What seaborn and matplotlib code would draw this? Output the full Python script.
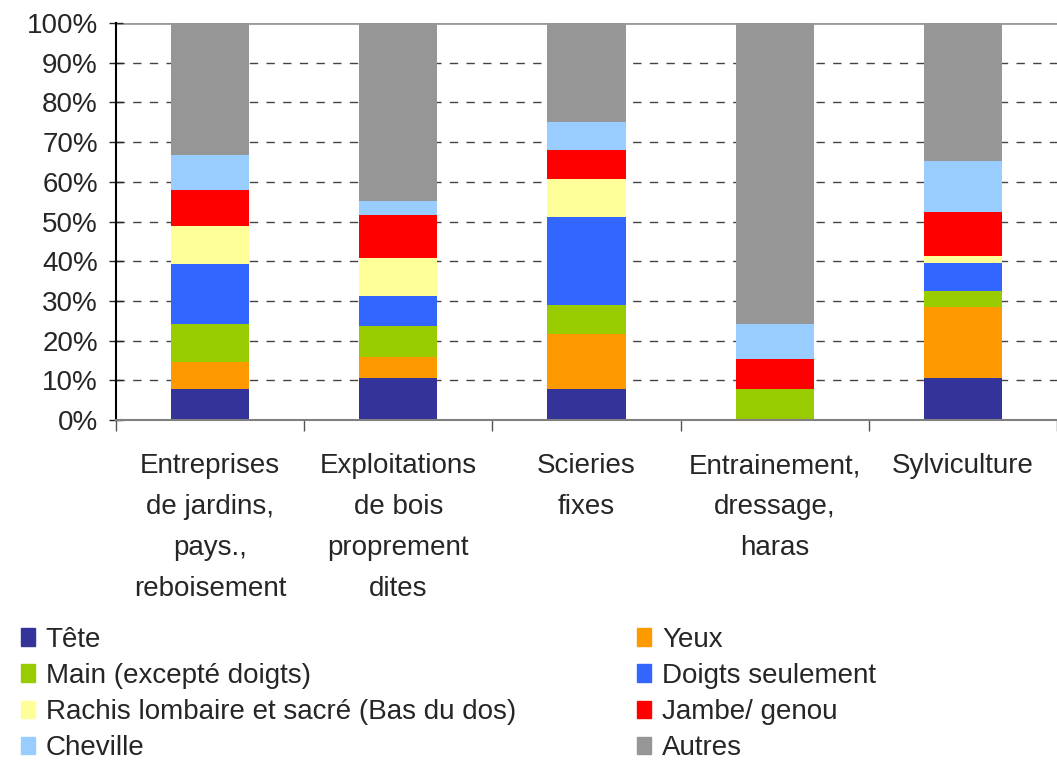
import matplotlib
matplotlib.use("Agg")
import matplotlib.pyplot as plt
import matplotlib.patches as mpatches
import numpy as np
import pandas as pd
import seaborn as sns

categories = [
    "Entreprises\nde jardins,\npays.,\nreboisement",
    "Exploitations\nde bois\nproprement\ndites",
    "Scieries\nfixes",
    "Entrainement,\ndressage,\nharas",
    "Sylviculture",
]

series = ["Tête", "Yeux", "Main (excepté doigts)", "Doigts seulement",
          "Rachis lombaire et sacré (Bas du dos)", "Jambe/ genou", "Cheville", "Autres"]

tete = [7.8, 10.6, 7.8, 0.0, 10.6]
yeux = [6.9, 5.3, 13.8, 0.0, 17.8]
main = [9.6, 7.7, 7.4, 7.8, 4.1]
doigts = [15.0, 7.6, 22.1, 0.0, 7.0]
rachis = [9.6, 9.5, 9.5, 0.0, 1.9]
jambe = [9.0, 11.0, 7.5, 7.6, 11.0]
cheville = [8.8, 3.4, 6.9, 8.9, 12.9]
autres = [33.3, 44.9, 25.0, 75.7, 34.7]

colors = ["#333399", "#FF9900", "#99CC00", "#3366FF",
          "#FFFF99", "#FF0000", "#99CCFF", "#969696"]

df = pd.DataFrame(
    np.array([tete, yeux, main, doigts, rachis, jambe, cheville, autres]).T,
    columns=series,
)
cum = df[series].cumsum(axis=1)
cum["cat"] = categories

sns.set_style("white")
plt.rcParams["font.family"] = ["Liberation Sans", "DejaVu Sans"]

fig = plt.figure(figsize=(10.57, 7.68), dpi=100)
ax = fig.add_axes([0.1097, 0.453, 0.8903, 0.517])

# stacked bars: draw cumulative totals from top layer down
for name, col in reversed(list(zip(series, colors))):
    sns.barplot(data=cum, x="cat", y=name, color=col, width=0.415,
                saturation=1, ax=ax, linewidth=0)

ax.set_ylim(0, 100)
ax.set_xlim(-0.5, 4.5)
ax.set_xlabel("")
ax.set_ylabel("")
ax.set_yticks(np.arange(0, 101, 10))
ax.set_yticklabels([f"{v}%" for v in range(0, 101, 10)], fontsize=20)
ax.tick_params(axis="y", direction="inout", length=10, width=1, pad=8, left=True)

ax.set_xticks(range(5))
ax.set_xticklabels(categories, fontsize=20, linespacing=1.75)
ax.set_xticks(np.arange(-0.5, 4.6, 1), minor=True)
ax.tick_params(axis="x", which="major", length=0, pad=24)
ax.tick_params(axis="x", which="minor", length=8, width=1, color="#555555", bottom=True)

for y in range(10, 100, 10):
    ax.axhline(y, color="#444444", linestyle=(0, (6, 6)), linewidth=1, zorder=0)
ax.axhline(100, color="#999999", linewidth=2, zorder=0)

for s in ["top", "right"]:
    ax.spines[s].set_visible(False)
ax.spines["left"].set_color("black")
ax.spines["left"].set_linewidth(1.5)
ax.spines["bottom"].set_color("#808080")
ax.spines["bottom"].set_linewidth(1.5)

handles = [mpatches.Patch(color=c, label=s) for s, c in zip(series, colors)]
order = [0, 2, 4, 6, 1, 3, 5, 7]
fig.legend([handles[i] for i in order], [series[i] for i in order],
           ncol=2, loc="lower left", bbox_to_anchor=(-0.004, -0.024),
           frameon=False, fontsize=20, handlelength=0.5, handleheight=0.6,
           handletextpad=0.4, columnspacing=4.35, labelspacing=0.37)

fig.savefig("out.png", dpi=100)
